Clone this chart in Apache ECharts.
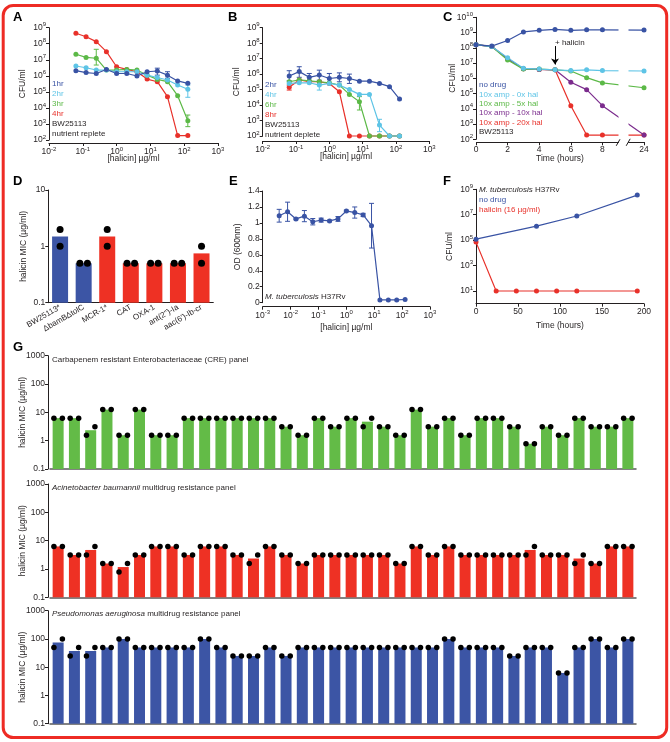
<!DOCTYPE html>
<html><head><meta charset="utf-8">
<script src="https://cdn.jsdelivr.net/npm/echarts@6.0.0/dist/echarts.min.js"></script>
<style>html,body{margin:0;padding:0;background:#fff}#c{width:670px;height:742px}</style>
</head><body><div id="c"></div>
<script>
// ---------- DATA ----------
// Panel A (nutrient replete), CFU/ml vs halicin µg/ml
const aConc = [0.0625,0.125,0.25,0.5,1,2,4,8,16,32,64,128];
const a1hr = [2.1e6,1.6e6,1.4e6,2.5e6,1.4e6,1.4e6,9.8e5,1.8e6,2.0e6,1.1e6,4.8e5,3.4e5];
const a2hr = [4.1e6,3.2e6,2.3e6,2.3e6,1.8e6,1.8e6,1.8e6,1.1e6,7.9e5,5.5e5,2.7e5,1.45e5];
const a3hr = [2.2e7,1.4e7,1.25e7,2.3e6,2.3e6,2.5e6,2.3e6,1.1e6,6.0e5,4.3e5,5.8e4,1.6e3];
const a4hr = [4.5e8,2.75e8,1.35e8,3.2e7,3.7e6,2.5e6,1.8e6,6.3e5,4.3e5,5.0e4,190,190];
const a1hrErr = [[8,1.1e6,3.0e6],[9,7e5,1.8e6]];
const a2hrErr = [[11,4.6e4,2.7e5]];
const a3hrErr = [[2,4.7e6,4.5e7],[11,680,3600]];
// Panel B (nutrient deplete)
const bConc = [0.0625,0.125,0.25,0.5,1,2,4,8,16,32,64,128];
const b2hr = [7.5e5,1.45e6,6.2e5,8.7e5,5.2e5,6.2e5,5.2e5,3.5e5,3.5e5,2.5e5,1.55e5,2.45e4];
const b4hr = [2.5e5,2.75e5,2.75e5,1.95e5,2.5e5,1.95e5,1.0e5,4.9e4,4.9e4,510,100,100];
const b6hr = [3.2e5,4.2e5,3.7e5,3.2e5,2.75e5,1.95e5,4.9e4,1.66e4,100,100,100,100];
const b8hr = [1.4e5,4.2e5,3.2e5,3.2e5,2.5e5,7.2e4,100,100,100,100,100,100];
const b2hrErr = [[0,3.7e5,1.66e6],[1,6.2e5,3.0e6],[2,3.5e5,1.1e6],[3,3.7e5,1.8e6],[4,2.5e5,1.1e6],[5,3.2e5,1.2e6],[6,2.5e5,1.0e6]];
const b4hrErr = [[3,9.3e4,4.2e5],[9,190,1.2e3]];
const b6hrErr = [[7,4.8e3,3.5e4]];
const b8hrErr = [[0,9.3e4,1.95e5]];
// Panel C (time-kill, hours)
const cHours = [0,1,2,3,4,5,6,7,8,24];
const cNoDrug = [1.6e8,1.3e8,3.0e8,1.1e9,1.4e9,1.6e9,1.4e9,1.5e9,1.5e9,1.45e9];
const cAmp0 = [1.6e8,1.2e8,2.2e7,4.5e6,4.0e6,3.6e6,3.2e6,3.6e6,3.2e6,3.0e6];
const cAmp5 = [1.6e8,1.2e8,1.6e7,4.0e6,4.0e6,3.6e6,3.0e6,1.1e6,5.0e5,2.4e5];
const cAmp10 = [1.6e8,1.2e8,1.9e7,4.2e6,3.8e6,3.6e6,5.5e5,1.8e5,1.6e4,190];
const cAmp20 = [1.6e8,1.2e8,1.9e7,4.2e6,3.8e6,3.6e6,1.6e4,190,190,190];
// Panel D
const dStrains = ['BW25113*','\u0394bamB\u0394tolC','MCR-1*','CAT','OXA-1','ant(2")-Ia',"aac(6')-Ib-cr"];
const dMIC = [1.5,0.5,1.5,0.5,0.5,0.5,0.75];
const dRep1 = [2,0.5,2,0.5,0.5,0.5,1];
const dRep2 = [1,0.5,1,0.5,0.5,0.5,0.5];
// Panel E
const eConc = [0.0039,0.0078,0.0156,0.03125,0.0625,0.125,0.25,0.5,1,2,4,8,16,32,64,128];
const eOD = [1.09,1.14,1.05,1.085,1.015,1.035,1.025,1.05,1.15,1.13,1.10,0.965,0.035,0.035,0.035,0.04];
const eSD = [0.08,0.12,0.01,0.07,0.04,0.025,0.01,0.03,0.01,0.07,0.02,0.28,0,0,0,0];
// Panel F
const fNoDrugT = [0,72,120,192];
const fNoDrug = [1.2e5,1.26e6,7.9e6,3.5e8];
const fHalT = [0,24,48,72,96,120,192];
const fHal = [7e4,10,10,10,10,10,10];
// Panel G
const creMIC = [6.25,6.25,2.34,12.5,1.56,12.5,1.56,1.56,6.25,6.25,6.25,6.25,6.25,6.25,3.125,1.56,6.25,3.125,6.25,4.69,3.125,1.56,12.5,3.125,6.25,1.56,6.25,6.25,3.125,0.78,3.125,1.56,6.25,3.125,3.125,6.25];
const creRep1 = [6.25,6.25,1.56,12.5,1.56,12.5,1.56,1.56,6.25,6.25,6.25,6.25,6.25,6.25,3.125,1.56,6.25,3.125,6.25,3.125,3.125,1.56,12.5,3.125,6.25,1.56,6.25,6.25,3.125,0.78,3.125,1.56,6.25,3.125,3.125,6.25];
const creRep2 = [6.25,6.25,3.125,12.5,1.56,12.5,1.56,1.56,6.25,6.25,6.25,6.25,6.25,6.25,3.125,1.56,6.25,3.125,6.25,6.25,3.125,1.56,12.5,3.125,6.25,1.56,6.25,6.25,3.125,0.78,3.125,1.56,6.25,3.125,3.125,6.25];
const abMIC = [6.25,3.125,4.69,1.56,1.17,3.125,6.25,6.25,3.125,6.25,6.25,3.125,2.34,6.25,3.125,1.56,3.125,3.125,3.125,3.125,3.125,1.56,6.25,3.125,6.25,3.125,3.125,3.125,3.125,4.69,3.125,3.125,2.34,1.56,6.25,6.25];
const abRep1 = [6.25,3.125,3.125,1.56,0.78,3.125,6.25,6.25,3.125,6.25,6.25,3.125,1.56,6.25,3.125,1.56,3.125,3.125,3.125,3.125,3.125,1.56,6.25,3.125,6.25,3.125,3.125,3.125,3.125,3.125,3.125,3.125,1.56,1.56,6.25,6.25];
const abRep2 = [6.25,3.125,6.25,1.56,1.56,3.125,6.25,6.25,3.125,6.25,6.25,3.125,3.125,6.25,3.125,1.56,3.125,3.125,3.125,3.125,3.125,1.56,6.25,3.125,6.25,3.125,3.125,3.125,3.125,6.25,3.125,3.125,3.125,1.56,6.25,6.25];
const paMIC = [75,37.5,37.5,50,100,50,50,50,50,100,50,25,25,50,25,50,50,50,50,50,50,50,50,50,100,50,50,50,25,50,50,6.25,50,100,50,100];
const paRep1 = [50,25,25,50,100,50,50,50,50,100,50,25,25,50,25,50,50,50,50,50,50,50,50,50,100,50,50,50,25,50,50,6.25,50,100,50,100];
const paRep2 = [100,50,50,50,100,50,50,50,50,100,50,25,25,50,25,50,50,50,50,50,50,50,50,50,100,50,50,50,25,50,50,6.25,50,100,50,100];
const isolates = creMIC.map((_, i) => String(i + 1));

// ---------- STYLE ----------
const FONT = '"Liberation Sans", Arial, Helvetica, sans-serif';
const INK = '#231f20';
const BLUE = '#3953a4', CYAN = '#5ec4e6', GREEN = '#5cb947', RED = '#e8312a', PURPLE = '#7b2c8d';
const BAR_GREEN = '#63bb47', BAR_RED = '#ee3124', BAR_BLUE = '#3c55a5';

function merge(a, b) {
  const o = Object.assign({}, a);
  for (const k in b) {
    const v = b[k];
    if (v && typeof v === 'object' && !Array.isArray(v) && o[k] && typeof o[k] === 'object' && !Array.isArray(o[k])) o[k] = merge(o[k], v);
    else o[k] = v;
  }
  return o;
}
const supRich = {
  n: {fontSize: 8.5, fontFamily: FONT, color: INK, lineHeight: 12},
  e: {fontSize: 6, fontFamily: FONT, color: INK, verticalAlign: 'top', lineHeight: 7}
};
function supLabel(v) { const e = Math.round(Math.log10(v)); return '{n|10}{e|' + e + '}'; }
function plainLog(v) { return String(+(+v).toPrecision(3)); }
const baseAx = {
  axisLine: {show: true, onZero: false, lineStyle: {color: INK, width: 1}},
  axisTick: {show: true, length: 3, inside: false, lineStyle: {color: INK, width: 1}},
  axisLabel: {fontSize: 8.5, color: INK, margin: 3, fontFamily: FONT},
  splitLine: {show: false},
  minorTick: {show: false},
  nameLocation: 'middle',
  nameMoveOverlap: false,
  nameTextStyle: {fontSize: 8.5, color: INK, fontFamily: FONT}
};
const ax = (extra) => merge(baseAx, extra);
const logLab = {formatter: supLabel, rich: supRich};

function errRender(params, api) {
  const x = api.value(0), lo = api.value(1), hi = api.value(2);
  const p1 = api.coord([x, hi]), p2 = api.coord([x, lo]);
  const w = 2.5;
  const style = {stroke: api.visual('color'), lineWidth: 1};
  return {type: 'group', children: [
    {type: 'line', shape: {x1: p1[0], y1: p1[1], x2: p2[0], y2: p2[1]}, style},
    {type: 'line', shape: {x1: p1[0] - w, y1: p1[1], x2: p1[0] + w, y2: p1[1]}, style},
    {type: 'line', shape: {x1: p2[0] - w, y1: p2[1], x2: p2[0] + w, y2: p2[1]}, style}
  ]};
}
function lineS(xi, xs, ys, color, extra) {
  return merge({type: 'line', xAxisIndex: xi, yAxisIndex: xi, data: xs.map((x, i) => [x, ys[i]]),
    symbol: 'circle', symbolSize: 5, showSymbol: true, clip: false,
    lineStyle: {color: color, width: 1.2}, itemStyle: {color: color}, emphasis: {disabled: true}}, extra || {});
}
function errS(xi, xs, errs, color) {
  return {type: 'custom', xAxisIndex: xi, yAxisIndex: xi, data: errs.map(e => [xs[e[0]], e[1], e[2]]),
    renderItem: errRender, itemStyle: {color: color}, encode: {x: 0, y: [1, 2]}, clip: false, silent: true};
}
function gPanel(catIdx, valIdx, yIdx, bars, r1, r2, color) {
  return [
    {type: 'bar', xAxisIndex: catIdx, yAxisIndex: yIdx, data: bars, barWidth: 11, itemStyle: {color: color}, silent: true},
    {type: 'scatter', xAxisIndex: valIdx, yAxisIndex: yIdx, data: r1.map((v, i) => [i - 0.26, v]), symbolSize: 5.5, itemStyle: {color: '#000', opacity: 1}, silent: true, z: 5},
    {type: 'scatter', xAxisIndex: valIdx, yAxisIndex: yIdx, data: r2.map((v, i) => [i + 0.26, v]), symbolSize: 5.5, itemStyle: {color: '#000', opacity: 1}, silent: true, z: 5}
  ];
}

// ---------- TEXT ----------
function txt(x, y, text, color, extra) {
  return merge({type: 'text', x: x, y: y, silent: true,
    style: {text: text, fill: color || INK, fontSize: 8, fontFamily: FONT, align: 'left', verticalAlign: 'middle'}}, extra || {});
}
function letter(x, y, t) { return txt(x, y, t, '#000', {style: {fontSize: 13, fontWeight: 'bold'}}); }
const italicRich = {i: {fontStyle: 'italic', fontSize: 8, fontFamily: FONT, fill: INK, color: INK}, r: {fontSize: 8, fontFamily: FONT, fill: INK, color: INK}};
function richTxt(x, y, text) { return {type: 'text', x: x, y: y, silent: true, style: {text: text, rich: italicRich, fill: INK, fontSize: 8, fontFamily: FONT, align: 'left', verticalAlign: 'middle'}}; }

const legendStep = 9.9;
const baseGraphic = [
  {type: 'rect', silent: true, z: 100, shape: {x: 3.2, y: 5.5, width: 663.5, height: 732, r: 10}, style: {fill: 'none', stroke: '#ee2b24', lineWidth: 3}},
  letter(13, 17, 'A'), letter(228, 17, 'B'), letter(443, 17, 'C'),
  letter(13, 181, 'D'), letter(229, 181, 'E'), letter(443, 181, 'F'), letter(13, 347, 'G'),
  txt(52, 84, '1hr', BLUE), txt(52, 84 + legendStep, '2hr', CYAN), txt(52, 84 + 2 * legendStep, '3hr', GREEN),
  txt(52, 84 + 3 * legendStep, '4hr', RED), txt(52, 84 + 4 * legendStep, 'BW25113'), txt(52, 84 + 5 * legendStep, 'nutrient replete'),
  txt(265, 85, '2hr', BLUE), txt(265, 85 + legendStep, '4hr', CYAN), txt(265, 85 + 2 * legendStep, '6hr', GREEN),
  txt(265, 85 + 3 * legendStep, '8hr', RED), txt(265, 85 + 4 * legendStep, 'BW25113'), txt(265, 85 + 5 * legendStep, 'nutrient deplete'),
  txt(479, 85, 'no drug', BLUE), txt(479, 85 + 9.4, '10x amp - 0x hal', CYAN), txt(479, 85 + 2 * 9.4, '10x amp - 5x hal', GREEN),
  txt(479, 85 + 3 * 9.4, '10x amp - 10x hal', PURPLE), txt(479, 85 + 4 * 9.4, '10x amp - 20x hal', RED), txt(479, 85 + 5 * 9.4, 'BW25113'),
  txt(555, 43, '+ halicin'),
  richTxt(265, 297, '{i|M. tuberculosis}{r| H37Rv}'),
  richTxt(479, 190, '{i|M. tuberculosis}{r| H37Rv}'),
  txt(479, 200, 'no drug', BLUE), txt(479, 210, 'halicin (16 \u00b5g/ml)', RED),
  txt(52, 360, 'Carbapenem resistant Enterobacteriaceae (CRE) panel'),
  richTxt(52, 488, '{i|Acinetobacter baumannii}{r| multidrug resistance panel}'),
  richTxt(52, 614, '{i|Pseudomonas aeruginosa}{r| multidrug resistance panel}')
];

const gLogY = (grid) => ax({gridIndex: grid, type: 'log', min: 0.1, max: 1000, startValue: 0.1, offset: 2,
  name: 'halicin MIC (\u00b5g/ml)', nameGap: 21, axisLabel: {formatter: plainLog}});
const gCatX = (grid) => ({gridIndex: grid, type: 'category', data: isolates, axisLine: {show: true, lineStyle: {color: '#5a5a5a', width: 1.5}}, axisTick: {show: false}, axisLabel: {show: false}});
const gValX = (grid) => ({gridIndex: grid, type: 'value', min: -0.5, max: 35.5, show: false});

const option = {
  animation: false,
  textStyle: {fontFamily: FONT},
  grid: [
    {left: 49, top: 27.7, width: 169, height: 112.3},
    {left: 262.7, top: 27.7, width: 166.6, height: 108.3},
    {left: 476, top: 17.3, width: 168, height: 122},
    {left: 48.3, top: 190, width: 165, height: 112.7},
    {left: 262.7, top: 191, width: 167.3, height: 111.7},
    {left: 476, top: 189.3, width: 168, height: 114.4},
    {left: 50, top: 355.7, width: 586, height: 113.3},
    {left: 50, top: 484, width: 586, height: 113.3},
    {left: 50, top: 610.7, width: 586, height: 113}
  ],
  xAxis: [
    ax({gridIndex: 0, type: 'log', min: 0.01, max: 1000, offset: 3, axisLabel: logLab, name: '[halicin] \u00b5g/ml', nameGap: 11}),
    ax({gridIndex: 1, type: 'log', min: 0.01, max: 1000, offset: 5, axisLabel: logLab, name: '[halicin] \u00b5g/ml', nameGap: 11}),
    ax({gridIndex: 2, type: 'value', min: 0, max: 24, offset: 3, name: 'Time (hours)', nameGap: 12,
      breaks: [{start: 9, end: 23, gap: 0.63}],
      breakArea: {show: true, itemStyle: {color: '#fff', borderColor: '#fff', borderWidth: 0, opacity: 1}, zigzagAmplitude: 0},
      axisLabel: {customValues: [0, 2, 4, 6, 8, 24]}, axisTick: {customValues: [0, 2, 4, 6, 8, 24]}}),
    ax({gridIndex: 3, type: 'category', data: dStrains, axisTick: {show: false}, axisLabel: {rotate: 30, fontSize: 8, margin: 4, interval: 0}}),
    {gridIndex: 3, type: 'value', min: -0.5, max: 6.5, show: false},
    ax({gridIndex: 4, type: 'log', min: 0.001, max: 1000, offset: 4, axisLabel: logLab, name: '[halicin] \u00b5g/ml', nameGap: 16}),
    ax({gridIndex: 5, type: 'value', min: 0, max: 200, interval: 50, name: 'Time (hours)', nameGap: 17.5}),
    gCatX(6), gValX(6), gCatX(7), gValX(7), gCatX(8), gValX(8)
  ],
  yAxis: [
    ax({gridIndex: 0, type: 'log', min: 100, max: 1e9, axisLabel: logLab, name: 'CFU/ml', nameGap: 22}),
    ax({gridIndex: 1, type: 'log', min: 100, max: 1e9, axisLabel: logLab, name: 'CFU/ml', nameGap: 22}),
    ax({gridIndex: 2, type: 'log', min: 100, max: 1e10, axisLabel: logLab, name: 'CFU/ml', nameGap: 19}),
    ax({gridIndex: 3, type: 'log', min: 0.1, max: 10, startValue: 0.1, axisLabel: {formatter: plainLog}, name: 'halicin MIC (\u00b5g/ml)', nameGap: 20}),
    ax({gridIndex: 4, type: 'value', min: 0, max: 1.4, interval: 0.2, name: 'OD (600nm)', nameGap: 21}),
    ax({gridIndex: 5, type: 'log', min: 1, max: 1e9,
      axisLabel: {formatter: v => (Math.round(Math.log10(v)) % 2 === 1 ? supLabel(v) : ''), rich: supRich, customValues: [10, 1e3, 1e5, 1e7, 1e9]},
      axisTick: {customValues: [10, 1e3, 1e5, 1e7, 1e9]}, name: 'CFU/ml', nameGap: 22}),
    gLogY(6), gLogY(7), gLogY(8)
  ],
  series: [
    // A
    errS(0, aConc, a1hrErr, BLUE), errS(0, aConc, a2hrErr, CYAN), errS(0, aConc, a3hrErr, GREEN),
    lineS(0, aConc, a4hr, RED), lineS(0, aConc, a3hr, GREEN), lineS(0, aConc, a2hr, CYAN), lineS(0, aConc, a1hr, BLUE),
    // B
    errS(1, bConc, b2hrErr, BLUE), errS(1, bConc, b4hrErr, CYAN), errS(1, bConc, b6hrErr, GREEN), errS(1, bConc, b8hrErr, RED),
    lineS(1, bConc, b8hr, RED), lineS(1, bConc, b6hr, GREEN), lineS(1, bConc, b4hr, CYAN), lineS(1, bConc, b2hr, BLUE),
    // C
    lineS(2, cHours, cAmp20, RED, {markLine: {silent: true, symbol: ['none', 'arrow'], symbolSize: 6, label: {show: false},
      lineStyle: {color: '#000', width: 1, type: 'solid'}, data: [[{coord: [5, 1.3e8]}, {coord: [5, 8e6]}]]}}),
    lineS(2, cHours, cAmp10, PURPLE), lineS(2, cHours, cAmp5, GREEN), lineS(2, cHours, cAmp0, CYAN), lineS(2, cHours, cNoDrug, BLUE),
    // D
    {type: 'bar', xAxisIndex: 3, yAxisIndex: 3, data: dMIC, barWidth: 16, silent: true,
      itemStyle: {color: p => (p.dataIndex < 2 ? BAR_BLUE : BAR_RED)}},
    {type: 'scatter', xAxisIndex: 4, yAxisIndex: 3, symbolSize: 7, itemStyle: {color: '#000', opacity: 1}, silent: true, z: 5,
      data: dRep1.map((v, i) => [i + (v === dRep2[i] ? -0.16 : 0), v])},
    {type: 'scatter', xAxisIndex: 4, yAxisIndex: 3, symbolSize: 7, itemStyle: {color: '#000', opacity: 1}, silent: true, z: 5,
      data: dRep2.map((v, i) => [i + (v === dRep1[i] ? 0.16 : 0), v])},
    // E
    {type: 'custom', xAxisIndex: 5, yAxisIndex: 4, renderItem: errRender, itemStyle: {color: BLUE}, encode: {x: 0, y: [1, 2]}, clip: false, silent: true,
      data: eConc.map((x, i) => [x, eOD[i] - eSD[i], eOD[i] + eSD[i]]).filter((d, i) => eSD[i] > 0)},
    merge(lineS(5, eConc, eOD, BLUE), {yAxisIndex: 4}),
    // F
    merge(lineS(6, fHalT, fHal, RED), {yAxisIndex: 5}),
    merge(lineS(6, fNoDrugT, fNoDrug, BLUE), {yAxisIndex: 5}),
    // G
    ...gPanel(7, 8, 6, creMIC, creRep1, creRep2, BAR_GREEN),
    ...gPanel(9, 10, 7, abMIC, abRep1, abRep2, BAR_RED),
    ...gPanel(11, 12, 8, paMIC, paRep1, paRep2, BAR_BLUE)
  ],
  graphic: baseGraphic
};

const chart = echarts.init(document.getElementById('c'), null, {renderer: 'canvas'});
chart.setOption(option);
// axis-break marks on panel C's time axis
try {
  const yAxisPx = chart.convertToPixel({yAxisIndex: 2}, 100) + 3;
  const bx1 = chart.convertToPixel({xAxisIndex: 2}, 9);
  const bx2 = chart.convertToPixel({xAxisIndex: 2}, 23);
  const mk = (x) => ({type: 'line', silent: true, z: 50, shape: {x1: x - 2, y1: yAxisPx + 3.5, x2: x + 2, y2: yAxisPx - 3.5}, style: {stroke: INK, lineWidth: 1}});
  if (isFinite(bx1) && isFinite(bx2)) {
    option.graphic = baseGraphic.concat([mk(bx1), mk(bx2)]);
    chart.setOption(option, true);
  }
} catch (e) {}
</script></body></html>
